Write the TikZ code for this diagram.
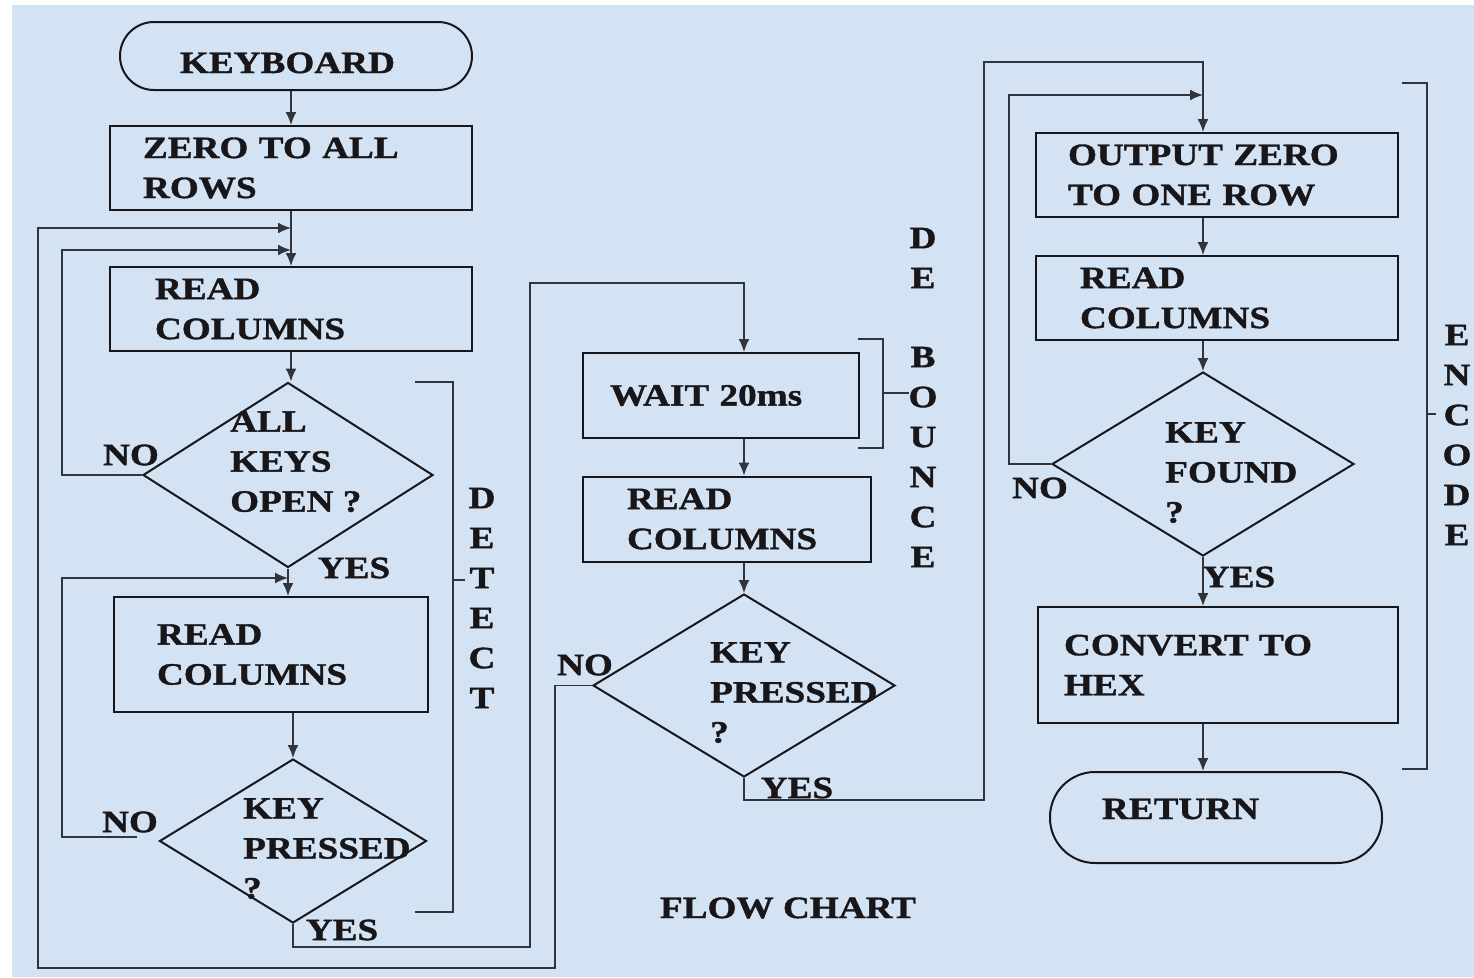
\documentclass[tikz,border=0pt]{standalone}
\usepackage{fontspec}
\setmainfont{Liberation Serif}[FakeStretch=1.2,FakeBold=1.2]
\usetikzlibrary{arrows.meta,shapes.geometric}
\definecolor{bgblue}{RGB}{212,227,243}
\definecolor{ink}{RGB}{25,22,25}
\definecolor{wire}{RGB}{50,52,60}
\begin{document}
\begin{tikzpicture}[x=1pt,y=-1pt,
  font=\fontsize{31}{40}\selectfont\bfseries,
  line/.style={draw=wire,line width=1.7pt},
  arr/.style={line,-{Latex[length=13pt,width=11pt]}},
  procbox/.style={draw=ink,line width=2pt,align=left,inner ysep=0pt,text=ink},
  termbox/.style={draw=ink,line width=2pt,align=left,inner ysep=0pt,text=ink},
  decision/.style={diamond,draw=ink,line width=2pt,inner sep=0pt},
  lbl/.style={inner sep=0pt,text=ink},
  dtext/.style={inner sep=0pt,anchor=north west,align=left,text=ink},
  vert/.style={inner sep=0pt,align=center,text=ink}]
\useasboundingbox (0,0) rectangle (1474,977);
\fill[white] (0,0) rectangle (1474,977);
\fill[bgblue] (12,5) rectangle (1474,977);

% nodes
\node[termbox, rounded corners=34pt, minimum width=352pt, minimum height=68pt,
      text width=232pt, inner xsep=60pt, text height=34pt, text depth=0pt] (kb) at (296,56) {KEYBOARD};
\node[procbox, minimum width=362pt, minimum height=84pt, text width=296pt, inner xsep=33pt] (b1) at (291,168) {ZERO TO ALL\\ROWS};
\node[procbox, minimum width=362pt, minimum height=84pt, text width=272pt, inner xsep=45pt] (b2) at (291,309) {READ\\COLUMNS};
\node[decision, minimum width=290pt, minimum height=185pt] (d1) at (288,475) {};
\node[dtext] (d1t) at (230,411) {ALL\\KEYS\\OPEN ?};
\node[procbox, minimum width=314pt, minimum height=115pt, text width=228pt, inner xsep=43pt] (b3) at (271,654.5) {READ\\COLUMNS};
\node[decision, minimum width=267pt, minimum height=164pt] (d2) at (293,841) {};
\node[dtext] (d2t) at (243,798) {KEY\\PRESSED\\?};

\node[procbox, minimum width=276pt, minimum height=85pt, text width=222pt, inner xsep=27pt] (b4) at (721,395.5) {WAIT 20ms};
\node[procbox, minimum width=288pt, minimum height=85pt, text width=200pt, inner xsep=44pt] (b5) at (727,519) {READ\\COLUMNS};
\node[decision, minimum width=302pt, minimum height=183pt] (d3) at (744,685.5) {};
\node[dtext] (d3t) at (710,642) {KEY\\PRESSED\\?};

\node[procbox, minimum width=362pt, minimum height=84pt, text width=298pt, inner xsep=32pt] (b6) at (1217,175) {OUTPUT ZERO\\TO ONE ROW};
\node[procbox, minimum width=362pt, minimum height=84pt, text width=274pt, inner xsep=44pt] (b7) at (1217,298) {READ\\COLUMNS};
\node[decision, minimum width=302pt, minimum height=184pt] (d4) at (1203,464) {};
\node[dtext] (d4t) at (1165,422) {KEY\\FOUND\\?};
\node[procbox, minimum width=360pt, minimum height=116pt, text width=308pt, inner xsep=26pt] (b8) at (1218,665) {CONVERT TO\\HEX};
\node[termbox, rounded corners=45pt, minimum width=332pt, minimum height=91pt,
      text width=228pt, inner xsep=52pt, text height=21pt, text depth=18pt] (ret) at (1216,817.5) {RETURN};

% labels
\node[lbl] (no1) at (131,455) {NO};
\node[lbl] (yes1) at (354,568) {YES};
\node[lbl] (no2) at (130,822) {NO};
\node[lbl] (yes2) at (342,930) {YES};
\node[lbl] (no3) at (585,665) {NO};
\node[lbl] (yes3) at (797,788) {YES};
\node[lbl] (no4) at (1040,488) {NO};
\node[lbl] (yes4) at (1239,577) {YES};
\node[lbl] (title) at (788,908) {FLOW CHART};
\node[vert] (detect) at (482,598) {D\\E\\T\\E\\C\\T};
\node[vert] (de) at (923,258) {D\\E};
\node[vert] (bounce) at (923,457) {B\\O\\U\\N\\C\\E};
\node[vert] (encode) at (1457,435) {E\\N\\C\\O\\D\\E};

% junction coordinates
\coordinate (j0) at (b1.south |- 0,228);
\coordinate (j1) at (b1.south |- 0,250);
\coordinate (j2) at (d1.south |- 0,578);
\coordinate (j3) at (d4.north |- 0,95);
\coordinate (n2) at (137,837);

% connectors, left column
\draw[arr] (b1.north |- kb.south) -- (b1.north);
\draw[arr] (b1.south) -- (b2.north);
\draw[arr] (b2.south) -- (b2.south |- d1.north);
\draw[arr] (d1.west) -| (62,250) -- (j1);
\draw[arr] (d1.south) -- (d1.south |- b3.north);
\draw[arr] (n2) -| (62,578) -- (j2);
\draw[arr] (d2.north |- b3.south) -- (d2.north);
\draw[arr] (d2.south) |- (530,947) -- (530,283) -| (d3.north |- b4.north);

% middle column
\draw[arr] (d3.north |- b4.south) -- (d3.north |- b5.north);
\draw[arr] (d3.north |- b5.south) -- (d3.north);
\draw[arr] (d3.west) -| (555,968) -- (38,968) |- (j0);
\draw[arr] (d3.south) |- (984,800) -- (984,62) -| (d4.north |- b6.north);

% right column
\draw[arr] (d4.west) -| (1009,95) -- (j3);
\draw[arr] (d4.north |- b6.south) -- (d4.north |- b7.north);
\draw[arr] (d4.north |- b7.south) -- (d4.north);
\draw[arr] (d4.south) -- (d4.south |- b8.north);
\draw[arr] (d4.south |- b8.south) -- (d4.south |- ret.north);

% brackets
\draw[line] (415,382) -- (453,382) -- (453,912) -- (415,912);
\draw[line] (453,580) -- (465,580);
\draw[line] (858,339) -- (883,339) -- (883,448) -- (858,448);
\draw[line] (883,393) -- (909,393);
\draw[line] (1402,83) -- (1427,83) -- (1427,769) -- (1402,769);
\draw[line] (1427,414) -- (1436,414);
\end{tikzpicture}
\end{document}
